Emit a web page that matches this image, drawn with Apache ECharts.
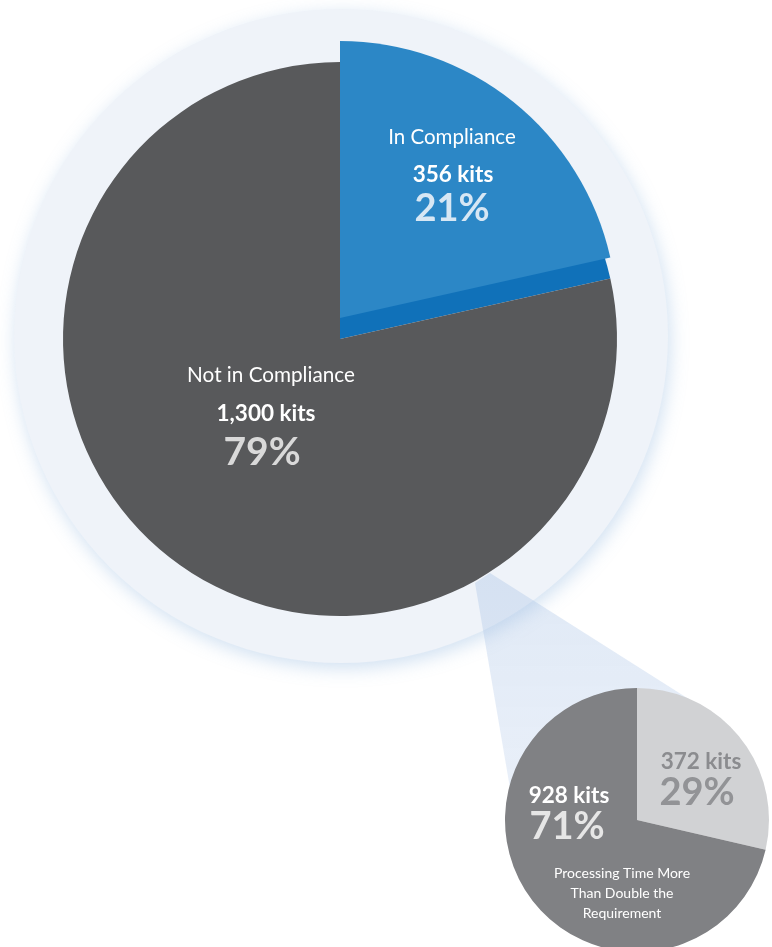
<!DOCTYPE html>
<html><head><meta charset="utf-8">
<script src="https://cdn.jsdelivr.net/npm/echarts@6/dist/echarts.min.js"></script>
<style>html,body{margin:0;padding:0;background:#fff}#c{width:772px;height:947px}</style>
</head><body><div id="c"></div>
<script>
// ---- data ----
const mainCategories = ['In Compliance', 'Not in Compliance'];
const mainValues = [356, 1300];
const mainPercents = ['21%', '79%'];
const subCategories = ['Processing Time Within Double', 'Processing Time More Than Double the Requirement'];
const subValues = [372, 928];
const subPercents = ['29%', '71%'];
const subTitleLines = ['Processing Time More', 'Than Double the', 'Requirement'];

const FONT = 'Lato, "Open Sans", sans-serif';
const fmt = v => v.toLocaleString('en-US') + ' kits';

const chart = echarts.init(document.getElementById('c'), null, {renderer: 'canvas'});

const pieBase = {
  type: 'pie', silent: true, clockwise: true, startAngle: 90,
  label: {show: false}, labelLine: {show: false},
  emphasis: {disabled: true}, animation: false,
  itemStyle: {borderWidth: 0}
};

function txt(x, y, text, size, weight, color) {
  return {type: 'text', z: 100, x: x, y: y, silent: true,
    style: {text: text, fontSize: size, fontWeight: weight, fill: color,
      fontFamily: FONT, align: 'center', verticalAlign: 'middle'}};
}

const option = {
  animation: false,
  graphic: {elements: [
    {type: 'circle', z: -20, shape: {cx: 341, cy: 336, r: 327}, silent: true,
      style: {fill: '#eff3f9', shadowBlur: 18, shadowColor: 'rgba(120,165,215,0.35)', shadowOffsetX: 2, shadowOffsetY: 5}},
    {type: 'polygon', z: -10, silent: true,
      shape: {points: [[475, 583], [490, 573], [725, 722], [637, 820], [512, 800]]},
      style: {fill: {type: 'linear', x: 0, y: 0, x2: 0, y2: 1, colorStops: [
        {offset: 0, color: 'rgba(165,192,228,0.35)'},
        {offset: 1, color: 'rgba(185,205,235,0.30)'}]}}},
    txt(452, 137, mainCategories[0], 20.5, 'normal', '#ffffff'),
    txt(453, 175, fmt(mainValues[0]), 22.5, 'bold', '#ffffff'),
    txt(452, 209, mainPercents[0], 38, 'bold', '#d7e7f4'),
    txt(271, 375, mainCategories[1], 20.7, 'normal', '#ffffff'),
    txt(266, 414, fmt(mainValues[1]), 22.5, 'bold', '#ffffff'),
    txt(262, 452, mainPercents[1], 39, 'bold', '#d9d9d9'),
    txt(701, 762, fmt(subValues[0]), 22.5, 'bold', '#8b8c8f'),
    txt(697, 793, subPercents[0], 38, 'bold', '#929396'),
    txt(569, 796, fmt(subValues[1]), 22.5, 'bold', '#ffffff'),
    txt(567, 827, subPercents[1], 38, 'bold', '#e6e6e6'),
    txt(622, 873, subTitleLines[0], 14, 'normal', '#ffffff'),
    txt(622, 893, subTitleLines[1], 14, 'normal', '#ffffff'),
    txt(622, 913, subTitleLines[2], 14, 'normal', '#ffffff')
  ]},
  series: [
    Object.assign({}, pieBase, {
      name: 'main-base', center: [340, 339], radius: [0, 277], z: 2,
      data: mainCategories.map((n, i) => ({name: n, value: mainValues[i],
        itemStyle: {color: i === 0 ? '#1071b9' : '#58595b'}}))
    }),
    Object.assign({}, pieBase, {
      name: 'main-top', center: [340, 318], radius: [0, 277], z: 3,
      data: mainCategories.map((n, i) => ({name: n, value: mainValues[i],
        itemStyle: {color: i === 0 ? '#2c87c6' : 'rgba(0,0,0,0)'}}))
    }),
    Object.assign({}, pieBase, {
      name: 'sub', center: [637, 820], radius: [0, 132], z: 2,
      data: subCategories.map((n, i) => ({name: n, value: subValues[i],
        itemStyle: {color: i === 0 ? '#d1d2d4' : '#808184'}}))
    })
  ]
};
chart.setOption(option);
</script></body></html>
